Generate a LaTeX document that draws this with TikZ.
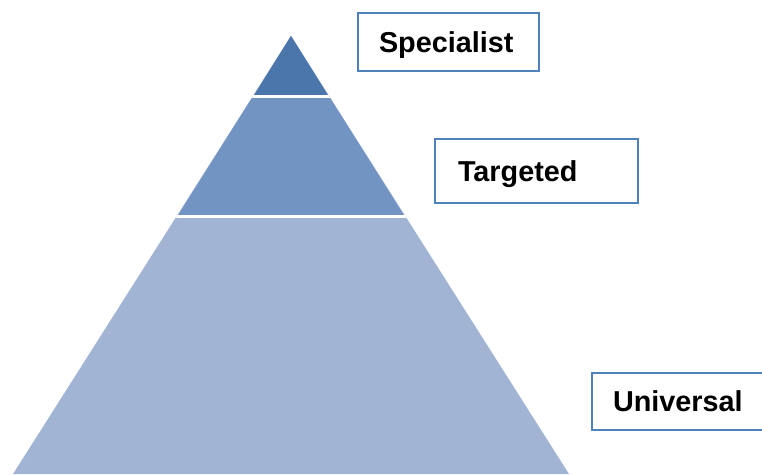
\documentclass[tikz,border=0pt]{standalone}
\usepackage{fontspec}
\setmainfont{Liberation Sans}
\usepackage{tikz}
\definecolor{tierone}{RGB}{74,118,172}
\definecolor{tiertwo}{RGB}{114,148,194}
\definecolor{tierthree}{RGB}{162,180,212}
\definecolor{boxblue}{RGB}{79,129,189}
\tikzset{
        levelbox/.style={
                draw=boxblue,
                line width=2pt,
                fill=white,
                anchor=west,
                align=left,
                inner xsep=21pt,
                text height=20.5pt,
                text depth=0pt,
                font=\bfseries\fontsize{28.8}{30}\selectfont
            },
        band/.style={draw=none},
        gap/.style={draw=white, line width=3pt}
}

\begin{document}
\begin{tikzpicture}[x=1pt,y=-1pt]
  \useasboundingbox (0,0) rectangle (762,474);
  % Pyramid
  \coordinate (apex) at (291,36);
  \coordinate (baseleft) at (13,474);
  \coordinate (baseright) at (569,474);
  \fill[band,tierthree] (apex) -- (baseleft) -- (baseright) -- cycle;
  \fill[band,tiertwo] (apex) -- (177.3,216.5) -- (404.7,216.5) -- cycle;
  \fill[band,tierone] (apex) -- (253.5,96.5) -- (328.5,96.5) -- cycle;
  \begin{scope}
    \clip (apex) -- (baseleft) -- (baseright) -- cycle;
    \draw[gap] (0,96.5) -- (762,96.5);
    \draw[gap] (0,216.5) -- (762,216.5);
  \end{scope}
  % Labels
  \node[levelbox, minimum width=181pt, minimum height=58pt, text width=139pt] (specialist) at (357,42) {Specialist};
  \node[levelbox, minimum width=203pt, minimum height=64pt, inner xsep=23pt, text width=157pt] (targeted) at (434,171) {Targeted};
  \node[levelbox, minimum width=190pt, minimum height=57pt, text width=148pt] (universal) at (591,401.5) {Universal};
\end{tikzpicture}
\end{document}
